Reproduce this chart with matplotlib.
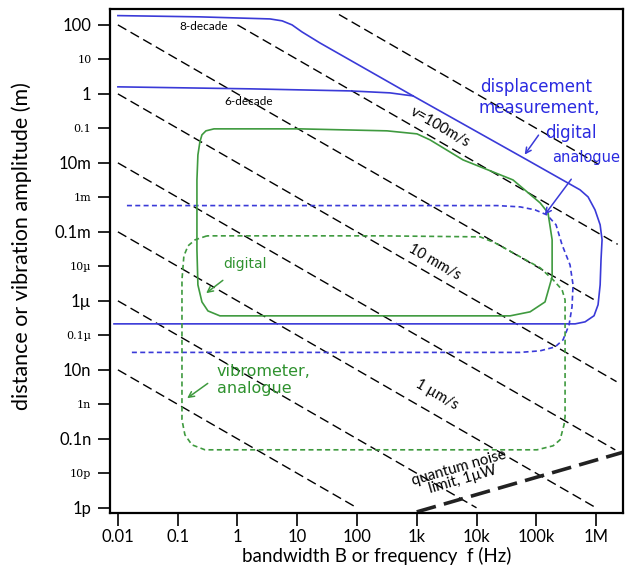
import numpy as np
import matplotlib
matplotlib.use('Agg')
import matplotlib.pyplot as plt
from matplotlib.transforms import ScaledTranslation

plt.rcParams['font.family'] = ['Lato', 'DejaVu Sans']

# ---------------- data ----------------
xtick_vals = [1e-2, 1e-1, 1e0, 1e1, 1e2, 1e3, 1e4, 1e5, 1e6]
xtick_labels = ['0.01', '0.1', '1', '10', '100', '1k', '10k', '100k', '1M']
ytick_vals = [1e2, 1e1, 1e0, 1e-1, 1e-2, 1e-3, 1e-4, 1e-5, 1e-6, 1e-7,
              1e-8, 1e-9, 1e-10, 1e-11, 1e-12]
ytick_labels = ['100', '10', '1', '0.1', '10m', '1m', '0.1m', '10µ', '1µ',
                '0.1µ', '10n', '1n', '0.1n', '10p', '1p']

# constant-velocity lines: amplitude = v / f
vel_v = [1e4, 1e2, 1e0, 1e-2, 1e-4, 1e-6, 1e-8, 1e-10]
vel_f_start = [50, 1, 0.01, 0.01, 0.01, 0.01, 0.01, 0.01]
vel_f_end = [1.1e6, 2.3e6, 1e6, 2.2e6, 2.1e6, 1e6, 1e4, 1e2]

# quantum noise limit (1 µW)
qn_f = [1e3, 3e6]
qn_A = [7.6e-13, 4.2e-11]

# displacement measurement, digital (8-decade window)
disp8_f = [0.01, 0.235, 3.5, 5.6, 8.2, 12, 24, 865, 7.0e4, 5.4e5, 7.35e5,
           9.6e5, 1.17e6, 1.26e6, 1.21e6, 1.17e6, 1.08e6, 9.25e5, 6.55e5,
           4.46e5, 525, 0.0086]
disp8_A = [186, 171, 149, 131, 100, 62.7, 30, 0.875, 0.0122, 1.65e-3,
           1.03e-3, 4.35e-4, 1.6e-4, 5.9e-5, 1.54e-5, 2.9e-6, 7.7e-7, 3.7e-7,
           2.46e-7, 2.15e-7, 2.15e-7, 2.15e-7]

# 6-decade top
disp6_f = [0.01, 1.62, 76, 356, 635, 865]
disp6_A = [1.6, 1.4, 1.22, 1.07, 0.935, 0.875]

# displacement measurement, analogue (dashed blue)
dispa_f = [0.01416, 2.2e4, 5.35e4, 9.5e4, 1.51e5, 2.14e5, 2.7e5, 3.67e5,
           4.12e5, 3.96e5, 3.53e5, 2.8e5, 2.06e5, 1.16e5, 5.35e4, 0.0171]
dispa_A = [5.78e-4, 5.78e-4, 5.3e-4, 4.35e-4, 3.1e-4, 1.6e-4, 4.2e-5, 1.1e-5,
           2.9e-6, 6.7e-7, 2.0e-7, 7.4e-8, 4.6e-8, 3.56e-8, 3.2e-8, 3.2e-8]

# vibrometer, digital (solid green)
vibd_f = [0.2355, 0.2546, 0.297, 0.405, 11.1, 318, 1009, 1667, 5940, 4.08e4,
          1.16e5, 1.57e5, 1.84e5, 1.84e5, 1.4e5, 7.87e4, 3.64e4, 0.509, 0.321,
          0.2546, 0.218, 0.21, 0.21, 0.218, 0.2355]
vibd_A = [0.0407, 0.0649, 0.0848, 0.0968, 0.0968, 0.0848, 0.0693, 0.0464,
          0.0122, 3.2e-3, 6.9e-4, 3.56e-4, 5.9e-5, 4.97e-6, 9.3e-7, 4.8e-7,
          3.67e-7, 3.67e-7, 5.1e-7, 9.3e-7, 2.9e-6, 3.0e-5, 3.2e-3, 0.017,
          0.0407]

# vibrometer, analogue (dashed green)
viba_f = [0.309, 0.195, 0.149, 0.127, 0.118, 0.118, 0.132, 0.173, 0.286,
          1.03e5, 1.91e5, 2.5e5, 2.91e5, 3.03e5, 3.03e5, 2.7e5, 1.91e5,
          1.16e5, 4.08e4, 2.04e4, 1.15e4, 243, 0.309]
viba_A = [7.66e-5, 5.86e-5, 3.93e-5, 2.01e-5, 4.07e-6, 3.56e-10, 1.31e-10,
          6.7e-11, 4.8e-11, 4.8e-11, 6.27e-11, 9.35e-11, 2.55e-10, 4.35e-10,
          1.07e-6, 2.09e-6, 4.07e-6, 9.06e-6, 2.46e-5, 4.8e-5, 7.16e-5,
          7.66e-5, 7.66e-5]

BLUE = '#3a3ad8'
BLUE_T = '#2a2ae0'
GREEN = '#3f9a3f'
GREEN_T = '#2f922f'

# ---------------- figure ----------------
fig = plt.figure(figsize=(6.28, 5.73), dpi=100)
ax = fig.add_axes([0.1744, 0.1052, 0.8176, 0.879])
ax.set_xscale('log')
ax.set_yscale('log')
ax.set_xlim(7.24e-3, 2.82e6)
ax.set_ylim(7.2e-13, 288)

for v, fs, fe in zip(vel_v, vel_f_start, vel_f_end):
    f = np.array([fs, fe])
    ax.plot(f, v / f, color='black', lw=1.0, dashes=(7, 3.5))

ax.plot(qn_f, qn_A, color='#222222', lw=2.6, dashes=(5.5, 2.3))

ax.plot(disp8_f, disp8_A, color=BLUE, lw=1.2)
ax.plot(disp6_f, disp6_A, color=BLUE, lw=1.2)
ax.plot(dispa_f, dispa_A, color=BLUE, lw=1.2, dashes=(3, 2))
ax.plot(vibd_f, vibd_A, color=GREEN, lw=1.2)
ax.plot(viba_f, viba_A, color=GREEN, lw=1.2, dashes=(3, 2))

# line labels
ax.text(2450, 0.11, 'v=100m/s', rotation=-30, ha='center', va='center',
        fontsize=10.5, rotation_mode='anchor')
ax.text(2020, 1.35e-5, '10 mm/s', rotation=-30, ha='center', va='center',
        fontsize=10.5, rotation_mode='anchor')
ax.text(2190, 1.9e-9, '1 µm/s', rotation=-30, ha='center', va='center',
        fontsize=10.5, rotation_mode='anchor')
ax.text(0.275, 87, '8-decade', ha='center', va='center', fontsize=8.5)
ax.text(1.55, 0.59, '6-decade', ha='center', va='center', fontsize=8.5)
ax.text(5400, 9.6e-12, 'quantum noise\nlimit, 1µW', rotation=16,
        ha='center', va='center', fontsize=10.8, rotation_mode='anchor',
        linespacing=0.85)

# blue labels
ax.text(1.14e4, 1.6, 'displacement', color=BLUE_T, fontsize=12,
        family='DejaVu Sans', ha='left', va='center')
ax.text(1.06e4, 0.39, 'measurement,', color=BLUE_T, fontsize=12,
        family='DejaVu Sans', ha='left', va='center')
ax.text(1.04e6, 0.074, 'digital', color=BLUE_T, fontsize=12,
        family='DejaVu Sans', ha='right', va='center')
ax.text(1.84e5, 0.014, 'analogue', color=BLUE_T, fontsize=10.5,
        family='DejaVu Sans', ha='left', va='center')
ax.annotate('', xy=(6.0e4, 0.0149), xytext=(1.16e5, 0.074),
            arrowprops=dict(arrowstyle='->', color=BLUE, lw=1.1))
ax.annotate('', xy=(1.3e5, 2.7e-4), xytext=(4.1e5, 3.9e-3),
            arrowprops=dict(arrowstyle='->', color=BLUE, lw=1.1))

# green labels
ax.text(1.34, 1.18e-5, 'digital', color=GREEN_T, fontsize=10,
        family='DejaVu Sans', ha='center', va='center')
ax.annotate('', xy=(0.275, 1.49e-6), xytext=(0.62, 4.4e-6),
            arrowprops=dict(arrowstyle='->', color=GREEN, lw=1.1))
ax.text(0.454, 5.1e-9, 'vibrometer,\nanalogue', color=GREEN_T, fontsize=11.5,
        family='DejaVu Sans', ha='left', va='center', linespacing=1.15)
ax.annotate('', xy=(0.132, 1.35e-9), xytext=(0.347, 4.5e-9),
            arrowprops=dict(arrowstyle='->', color=GREEN, lw=1.1))

# axes styling
ax.set_xticks(xtick_vals)
ax.set_xticklabels(xtick_labels, fontsize=12)
ax.set_yticks(ytick_vals)
ax.set_yticklabels(ytick_labels)
ax.minorticks_off()
shift = ScaledTranslation(-6 / 100, 0, fig.dpi_scale_trans)
for i, lab in enumerate(ax.get_yticklabels()):
    if i % 2 == 0:
        lab.set_fontsize(12)
    else:
        lab.set_fontsize(8)
        lab.set_family('DejaVu Serif')
        lab.set_transform(lab.get_transform() + shift)
ax.tick_params(axis='both', which='major', length=9, width=1.2, direction='out')
ax.tick_params(axis='y', pad=4)
ax.tick_params(axis='x', pad=3)
for sp in ax.spines.values():
    sp.set_linewidth(1.6)

ax.set_xlabel('bandwidth B or frequency  f (Hz)', fontsize=13.5)
ax.set_ylabel('distance or vibration amplitude (m)', fontsize=15.5)
ax.xaxis.set_label_coords(0.521, -0.068)
ax.yaxis.set_label_coords(-0.151, 0.53)

fig.savefig('out.png', dpi=100)
